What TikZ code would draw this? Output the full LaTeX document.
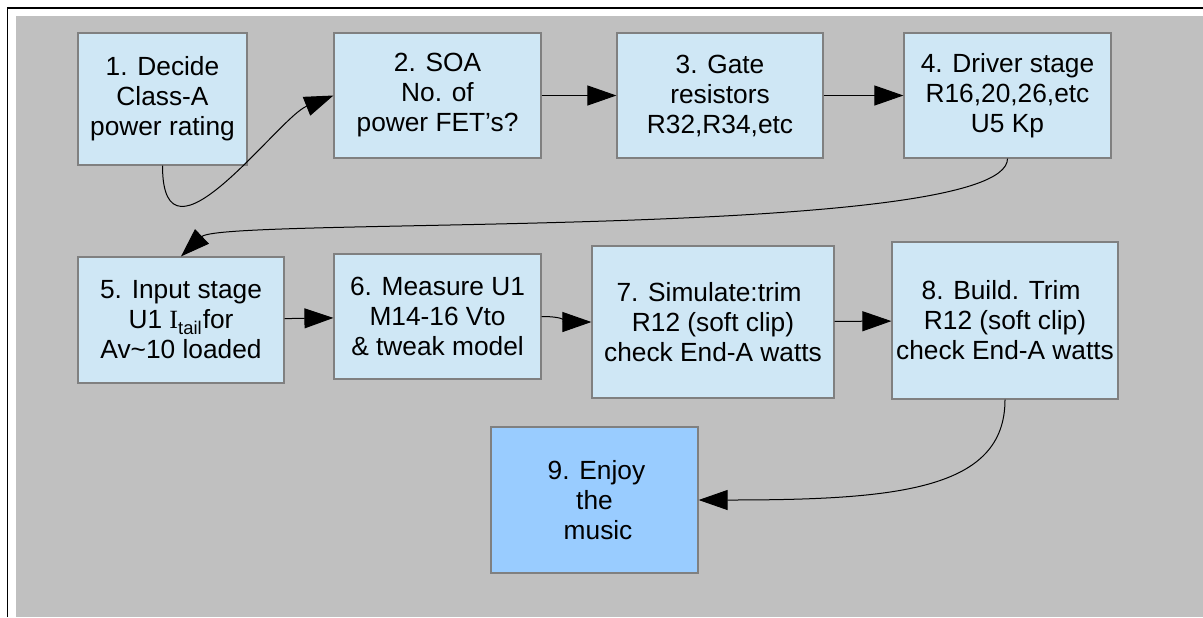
\documentclass[tikz,border=0pt]{standalone}
\usepackage{fontspec}
\setmainfont{Liberation Sans}
\newfontfamily\tailfont{Liberation Serif}
\usetikzlibrary{arrows.meta}
\definecolor{panelgray}{RGB}{192,192,192}
\definecolor{stagefill}{RGB}{207,231,245}
\definecolor{musicfill}{RGB}{153,204,255}
\definecolor{stageline}{RGB}{128,128,128}

\begin{document}
\begin{tikzpicture}[x=0.5pt,y=-0.5pt,
  stage/.style={draw=stageline,line width=0.6pt,fill=stagefill,inner sep=0pt,align=center,font=\fontsize{13.15}{15}\selectfont},
  link/.style={line width=0.5pt,-{Triangle[length=14.5pt,width=10pt]}}]
\useasboundingbox (0,0) rectangle (1203,617);
\fill[panelgray] (16,16) rectangle (1203,617);
\draw[line width=0.8pt] (7.5,617) -- (7.5,8) -- (1203,8);
% top row
\node[stage,minimum width=84.5pt,minimum height=66pt] (decide) at (162.5,99) {1. Decide\\Class-A\\power rating};
\node[stage,minimum width=103.5pt,minimum height=62.5pt] (soa) at (437.5,95.5) {2. SOA\\No. of\hspace*{0.27em}\\power FET's?};
\node[stage,minimum width=103pt,minimum height=62.5pt] (gate) at (720,95.5) {3. Gate\\resistors\\R32,R34,etc};
\node[stage,minimum width=103.5pt,minimum height=62.5pt] (driver) at (1007.5,95.5) {4. Driver stage\\R16,20,26,etc\\U5 Kp};
% second row
\node[stage,minimum width=103pt,minimum height=63pt] (input) at (181,320) {5. Input stage\\U1 {\tailfont I}\textsubscript{tail}for\\Av\textasciitilde10 loaded};
\node[stage,minimum width=103.5pt,minimum height=62.5pt] (measure) at (437.5,316.5) {6. Measure U1\\M14-16 Vto\hspace*{0.27em}\\\& tweak model};
\node[stage,minimum width=121pt,minimum height=76pt] (simulate) at (713,322) {7. Simulate:trim\hspace*{0.3em}\\R12 (soft clip)\\check End-A watts};
\node[stage,minimum width=113pt,minimum height=78.5pt] (build) at (1005,320.5) {8. Build. Trim\hspace*{0.3em}\\R12 (soft clip)\\check End-A watts};
% last one
\node[stage,fill=musicfill,minimum width=103.5pt,minimum height=73pt] (enjoy) at (594.5,500) {\hspace*{0.15em}9. Enjoy\\the\hspace*{0.34em}\\\hspace*{0.27em}music};
% connectors
\draw[link] (decide.south) .. controls +(0,115) and +(-55,22) .. (soa.west);
\draw[link] (soa) -- (gate);
\draw[link] (gate) -- (driver);
\draw[link] (driver.south) .. controls +(0,82) and +(42,-40) .. (input.north);
\draw[link] (input) -- (measure);
\draw[link] (measure.east) .. controls +(25,0) and +(-25,0) .. (simulate.west);
\draw[link] (simulate) -- (build);
\draw[link] (build.south) .. controls +(0,90) and +(200,0) .. (enjoy.east);
\end{tikzpicture}
\end{document}
